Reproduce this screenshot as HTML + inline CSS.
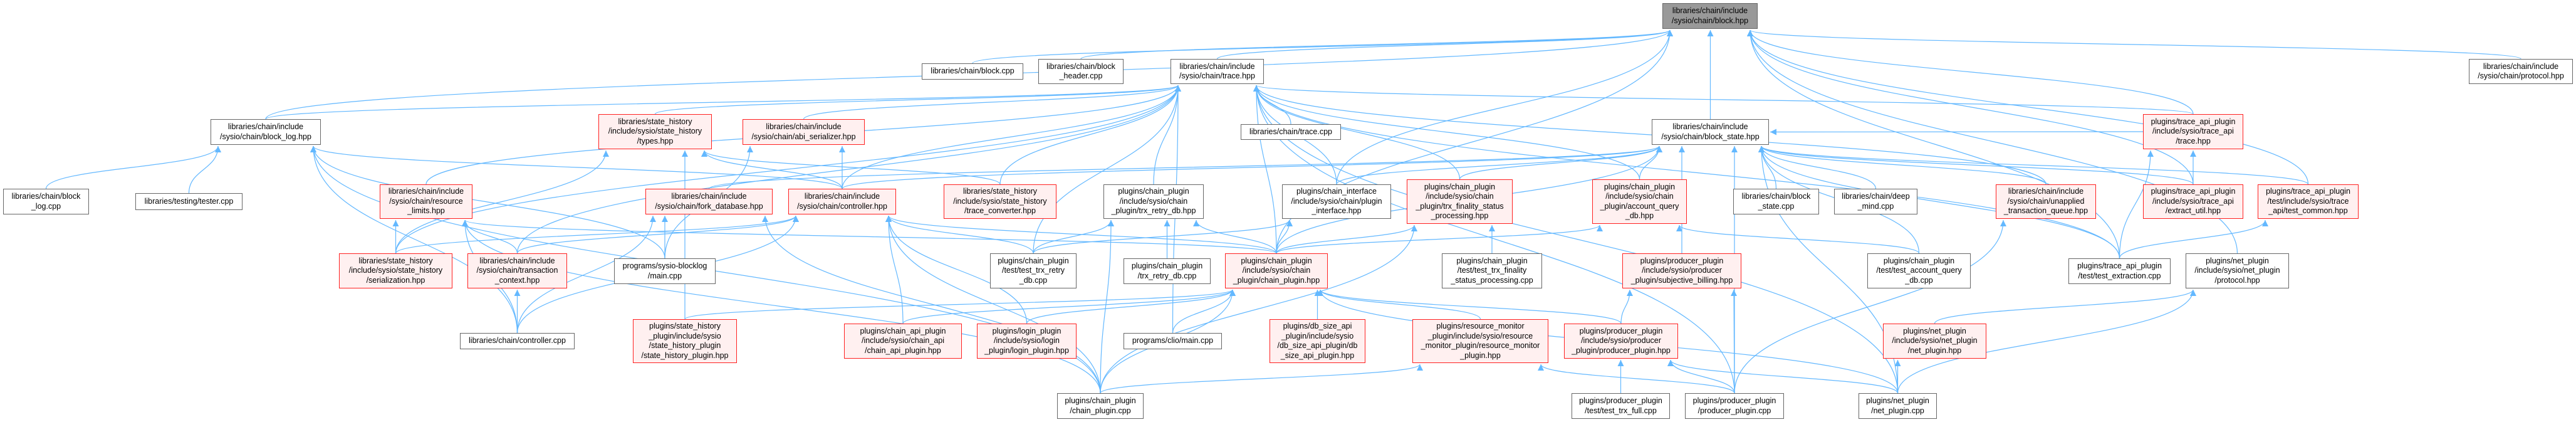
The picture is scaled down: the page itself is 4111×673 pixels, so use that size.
<!DOCTYPE html>
<html><head><meta charset="utf-8">
<style>
html,body{margin:0;padding:0;background:#fff;}
#c{position:relative;width:4111px;height:673px;overflow:hidden;background:#fff;}
svg{position:absolute;left:0;top:0;}
.n{position:absolute;box-sizing:border-box;border:1.5px solid #666;background:#fff;font-family:"Liberation Sans",Arial,sans-serif;font-size:12.5px;line-height:15.5px;color:#000;display:flex;align-items:center;justify-content:center;text-align:center;white-space:pre;}
.r{border-color:#ff2020;background:#fff0f0;}
.g{background:#999;border-color:#666;}
</style></head><body>
<div id="c"><svg id="s" width="4111" height="673" viewBox="0 0 4111 673">
<defs><marker id="ah" markerUnits="userSpaceOnUse" markerWidth="12" markerHeight="12" refX="10" refY="5" orient="auto"><path d="M0,0 L10,5 L0,10 z" fill="#63b8ff"/></marker></defs>
<g id="e" fill="none" stroke="#63b8ff" stroke-width="1.2"></g>
</svg></div>
<script>
var N={
A:[2653,5,2805,46,'libraries/chain/include\n/sysio/chain/block.hpp','g'],
B:[1471,101,1633,127,'libraries/chain/block.cpp',''],
C:[1657,94,1793,134,'libraries/chain/block\n_header.cpp',''],
T:[1868,94,2017,134,'libraries/chain/include\n/sysio/chain/trace.hpp',''],
P:[3940,94,4106,134,'libraries/chain/include\n/sysio/chain/protocol.hpp',''],
BL:[336,190,512,231,'libraries/chain/include\n/sysio/chain/block_log.hpp',''],
TY:[955,182,1136,238,'libraries/state_history\n/include/sysio/state_history\n/types.hpp','r'],
AB:[1185,190,1380,231,'libraries/chain/include\n/sysio/chain/abi_serializer.hpp','r'],
TC:[1980,198,2140,223,'libraries/chain/trace.cpp',''],
BS:[2636,190,2823,231,'libraries/chain/include\n/sysio/chain/block_state.hpp',''],
TA:[3420,182,3580,238,'plugins/trace_api_plugin\n/include/sysio/trace_api\n/trace.hpp','r'],
BLC:[5,301,142,342,'libraries/chain/block\n_log.cpp',''],
TE:[216,308,387,335,'libraries/testing/tester.cpp',''],
RL:[606,294,754,349,'libraries/chain/include\n/sysio/chain/resource\n_limits.hpp','r'],
FD:[1030,301,1233,342,'libraries/chain/include\n/sysio/chain/fork_database.hpp','r'],
CH:[1258,301,1430,342,'libraries/chain/include\n/sysio/chain/controller.hpp','r'],
TCV:[1506,294,1686,349,'libraries/state_history\n/include/sysio/state_history\n/trace_converter.hpp','r'],
TRH:[1761,294,1921,349,'plugins/chain_plugin\n/include/sysio/chain\n_plugin/trx_retry_db.hpp',''],
CI:[2046,294,2220,349,'plugins/chain_interface\n/include/sysio/chain/plugin\n_interface.hpp',''],
TFS:[2245,286,2414,357,'plugins/chain_plugin\n/include/sysio/chain\n_plugin/trx_finality_status\n_processing.hpp','r'],
AQ:[2541,286,2692,357,'plugins/chain_plugin\n/include/sysio/chain\n_plugin/account_query\n_db.hpp','r'],
BSC:[2766,301,2903,342,'libraries/chain/block\n_state.cpp',''],
DM:[2927,301,3060,342,'libraries/chain/deep\n_mind.cpp',''],
UQ:[3185,294,3345,349,'libraries/chain/include\n/sysio/chain/unapplied\n_transaction_queue.hpp','r'],
EU:[3420,294,3580,349,'plugins/trace_api_plugin\n/include/sysio/trace_api\n/extract_util.hpp','r'],
TCM:[3603,294,3764,349,'plugins/trace_api_plugin\n/test/include/sysio/trace\n_api/test_common.hpp','r'],
SER:[541,404,722,460,'libraries/state_history\n/include/sysio/state_history\n/serialization.hpp','r'],
TXC:[746,404,905,460,'libraries/chain/include\n/sysio/chain/transaction\n_context.hpp','r'],
SBL:[980,412,1142,453,'programs/sysio-blocklog\n/main.cpp',''],
TTR:[1580,404,1718,460,'plugins/chain_plugin\n/test/test_trx_retry\n_db.cpp',''],
TRC:[1793,412,1932,453,'plugins/chain_plugin\n/trx_retry_db.cpp',''],
CP:[1955,404,2119,460,'plugins/chain_plugin\n/include/sysio/chain\n_plugin/chain_plugin.hpp','r'],
TTF:[2301,404,2461,460,'plugins/chain_plugin\n/test/test_trx_finality\n_status_processing.cpp',''],
SB:[2589,404,2779,460,'plugins/producer_plugin\n/include/sysio/producer\n_plugin/subjective_billing.hpp','r'],
TAQ:[2980,404,3145,460,'plugins/chain_plugin\n/test/test_account_query\n_db.cpp',''],
TEX:[3301,412,3464,453,'plugins/trace_api_plugin\n/test/test_extraction.cpp',''],
NP:[3488,404,3653,460,'plugins/net_plugin\n/include/sysio/net_plugin\n/protocol.hpp',''],
CC:[734,531,917,557,'libraries/chain/controller.cpp',''],
SHP:[1010,509,1176,579,'plugins/state_history\n_plugin/include/sysio\n/state_history_plugin\n/state_history_plugin.hpp','r'],
CAP:[1347,516,1535,572,'plugins/chain_api_plugin\n/include/sysio/chain_api\n/chain_api_plugin.hpp','r'],
LP:[1559,516,1718,572,'plugins/login_plugin\n/include/sysio/login\n_plugin/login_plugin.hpp','r'],
CLIO:[1793,531,1950,557,'programs/clio/main.cpp',''],
DB:[2026,509,2179,579,'plugins/db_size_api\n_plugin/include/sysio\n/db_size_api_plugin/db\n_size_api_plugin.hpp','r'],
RM:[2254,509,2471,579,'plugins/resource_monitor\n_plugin/include/sysio/resource\n_monitor_plugin/resource_monitor\n_plugin.hpp','r'],
PP:[2496,516,2678,572,'plugins/producer_plugin\n/include/sysio/producer\n_plugin/producer_plugin.hpp','r'],
NPH:[3005,516,3170,572,'plugins/net_plugin\n/include/sysio/net_plugin\n/net_plugin.hpp','r'],
CPC:[1687,627,1825,668,'plugins/chain_plugin\n/chain_plugin.cpp',''],
TTFULL:[2508,627,2665,668,'plugins/producer_plugin\n/test/test_trx_full.cpp',''],
PPC:[2689,627,2847,668,'plugins/producer_plugin\n/producer_plugin.cpp',''],
NPC:[2966,627,3091,668,'plugins/net_plugin\n/net_plugin.cpp','']
};
var E={
A:'B C T P BL BS CI CP TA TCM NP TEX EU',
T:'BL TY AB RL TXC SER CH TCV TRH CI TFS AQ TC CP TTR UQ TA TEX NPC PPC CLIO',
BS:'CH FD CI TFS AQ BSC DM UQ EU TCM TEX TAQ SB CP PPC NPC TA',
BL:'BLC TE CC CPC SBL CH',
TY:'SER SHP CH TCV',
AB:'CH SBL',
RL:'SER TXC CC CP CPC',
CH:'TXC CC CAP LP CPC CP TTR SER',
FD:'CC SBL CPC',
TRH:'TTR TRC CP CPC',
CI:'CP TTR',
TFS:'TTF CPC CP',
AQ:'CP TAQ',
CP:'SHP CAP LP CLIO DB RM PP CPC NPC',
SB:'PP PPC',
PP:'TTFULL PPC NPC',
RM:'CPC PPC',
UQ:'PPC',
TA:'EU TEX',
TCM:'TEX',
NPH:'NPC',
NP:'NPH NPC',
TXC:'CC'
};
var c=document.getElementById('c'),g=document.getElementById('e');
for(var k in N){var n=N[k],d=document.createElement('div');d.className='n '+n[5];
d.style.left=n[0]+'px';d.style.top=n[1]+'px';d.style.width=(n[2]-n[0])+'px';d.style.height=(n[3]-n[1])+'px';
d.textContent=n[4];c.appendChild(d);}
var ns='http://www.w3.org/2000/svg';
for(var t in E){var tr=N[t];E[t].split(' ').forEach(function(s,i){var sr=N[s];if(!sr)return;
var sx=(sr[0]+sr[2])/2,sy=sr[1],ex,ey,d;
if(tr[3]<sr[1]-4){ex=Math.max(tr[0]+12,Math.min(tr[2]-12,sx));ey=tr[3]+2;var dy=sy-ey;
d='M'+sx+','+sy+' C'+sx+','+(sy-dy*0.5)+' '+ex+','+(ey+dy*0.5)+' '+ex+','+ey;}
else{ // side-by-side
 var leftSide=sr[0]>tr[2];sy=(sr[1]+sr[3])/2;sx=leftSide?sr[0]:sr[2];ex=leftSide?tr[2]+2:tr[0]-2;ey=(tr[1]+tr[3])/2;
 var mx=(sx+ex)/2;d='M'+sx+','+sy+' C'+mx+','+sy+' '+mx+','+ey+' '+ex+','+ey;}
var p=document.createElementNS(ns,'path');p.setAttribute('d',d);p.setAttribute('marker-end','url(#ah)');g.appendChild(p);});}
</script>
</body></html>
